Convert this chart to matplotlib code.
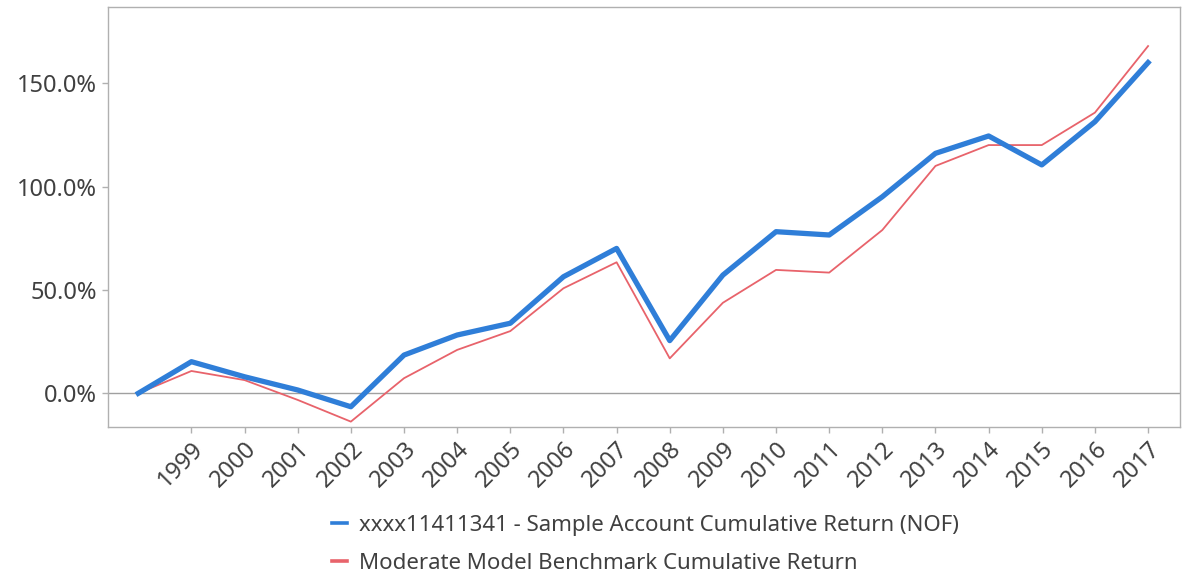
import matplotlib
matplotlib.use("Agg")
import matplotlib.pyplot as plt
from matplotlib.lines import Line2D
from matplotlib.ticker import FuncFormatter

# Données
years = [1998, 1999, 2000, 2001, 2002, 2003, 2004, 2005, 2006, 2007,
         2008, 2009, 2010, 2011, 2012, 2013, 2014, 2015, 2016, 2017]
tick_years = years[1:]

account_return = [0.0, 15.3, 8.0, 1.6, -6.5, 18.5, 28.2, 33.9, 56.4, 70.1,
                  25.5, 57.2, 78.2, 76.6, 95.1, 116.1, 124.5, 110.5, 131.4, 160.0]
benchmark_return = [0.0, 10.8, 6.4, -3.2, -13.7, 7.3, 21.0, 30.1, 50.8, 63.4,
                    16.9, 43.8, 59.7, 58.4, 79.0, 110.0, 120.1, 120.1, 135.8, 168.0]

account_label = "xxxx11411341 - Sample Account Cumulative Return (NOF)"
benchmark_label = "Moderate Model Benchmark Cumulative Return"

plt.rcParams['font.family'] = ['Noto Sans', 'DejaVu Sans']
text_color = '#404040'
grid_color = '#b0b0b0'
blue = '#2F7ED8'
red = '#E8636B'

fig = plt.figure(figsize=(11.89, 5.74), dpi=100)
ax = fig.add_axes([0.0908, 0.2561, 0.9016, 0.7317])

ax.axhline(0, color='#a0a0a0', lw=1.0, zorder=1)
ax.plot(years, benchmark_return, color=red, lw=1.3, zorder=2)
ax.plot(years, account_return, color=blue, lw=3.8, zorder=3)

ax.set_xlim(1997.43, 2017.6)
ax.set_ylim(-16.3, 186.9)
ax.set_yticks([0, 50, 100, 150])
ax.yaxis.set_major_formatter(FuncFormatter(lambda v, p: f"{v:.1f}%"))
ax.set_xticks(tick_years)
ax.set_xticklabels([str(y) for y in tick_years], rotation=45, ha='right',
                   rotation_mode='anchor')

for s in ax.spines.values():
    s.set_color(grid_color)
    s.set_linewidth(1.0)
ax.tick_params(axis='both', colors=grid_color, length=4, width=1.0)
ax.tick_params(axis='y', labelsize=17, labelcolor=text_color, pad=4)
ax.tick_params(axis='x', labelsize=17, labelcolor=text_color, pad=3)

# Légende : petites poignées de même épaisseur
handles = [Line2D([], [], color=blue, lw=2.6), Line2D([], [], color=red, lw=2.6)]
fig.legend(handles, [account_label, benchmark_label], loc='upper left',
           bbox_to_anchor=(0.272, 0.118), frameon=False, fontsize=16,
           labelcolor=text_color, handlelength=0.65, handletextpad=0.55,
           labelspacing=0.75, borderaxespad=0)

fig.savefig("out.png", dpi=100)
